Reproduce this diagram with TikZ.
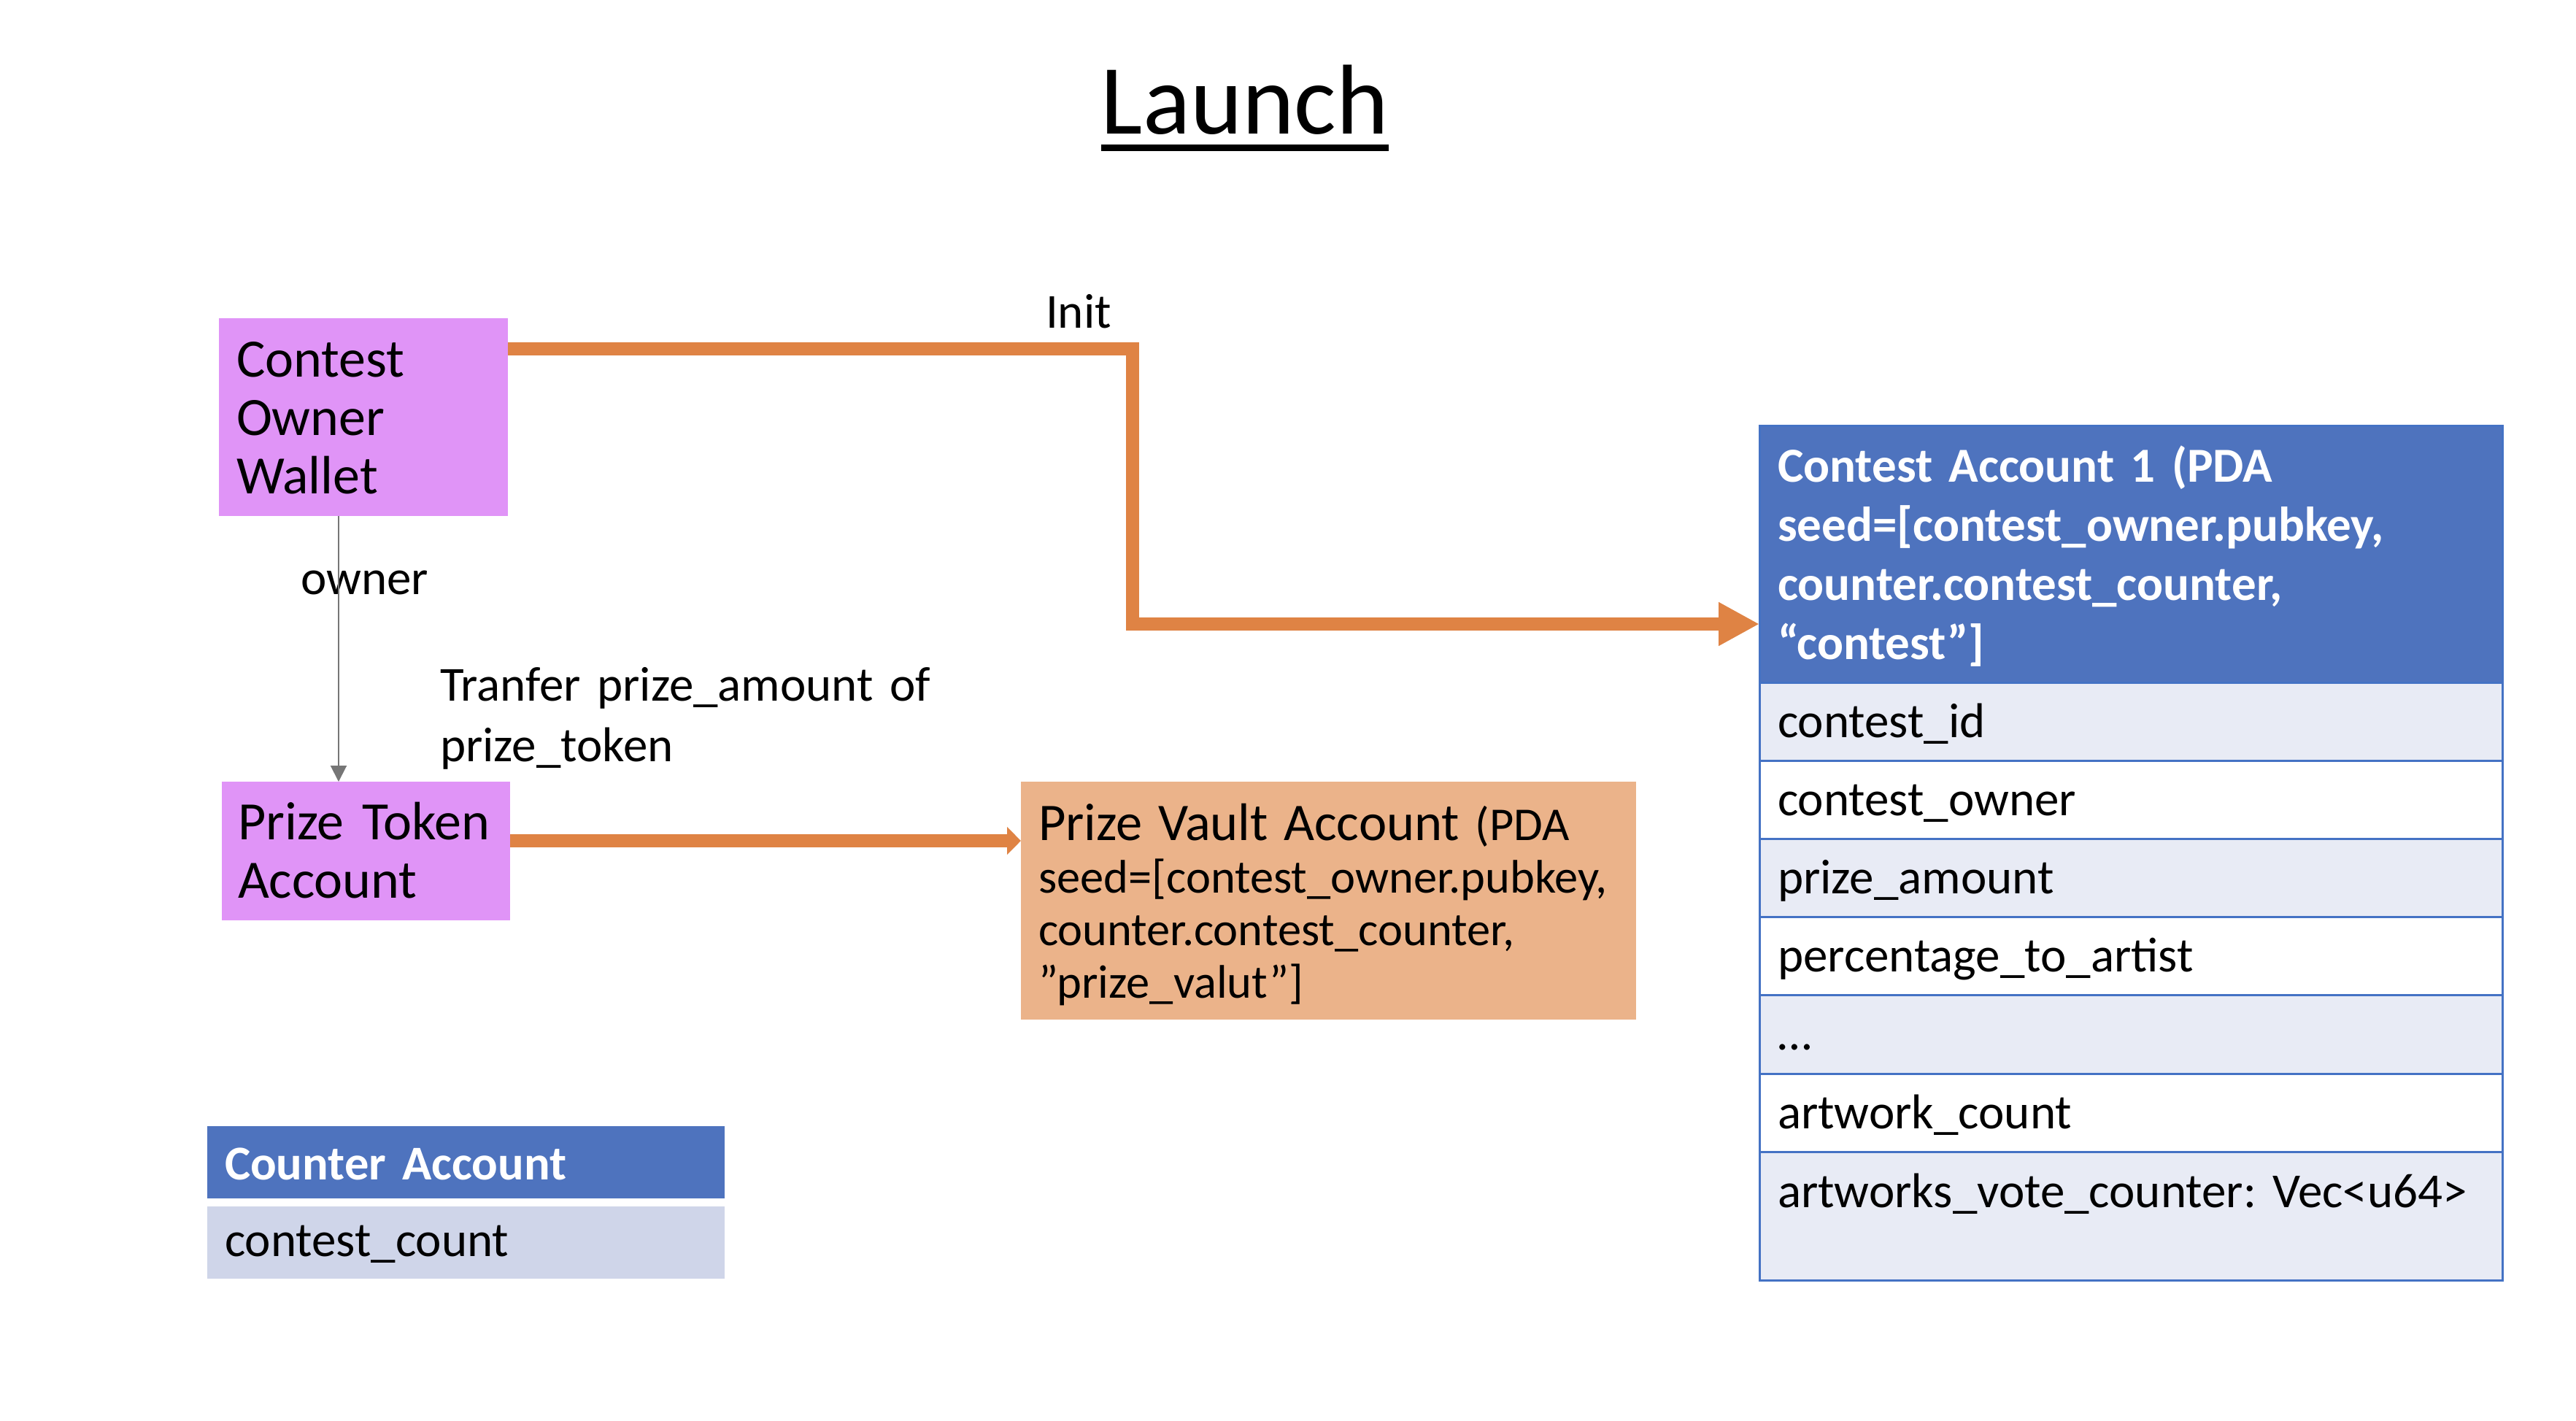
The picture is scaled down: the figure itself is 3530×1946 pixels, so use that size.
\documentclass[tikz,border=0pt]{standalone}
\usepackage{fontspec}
\setmainfont{Carlito}
\usetikzlibrary{arrows.meta,calc}
\definecolor{walletc}{HTML}{E094F7}
\definecolor{orangec}{HTML}{DF8344}
\definecolor{vaultc}{HTML}{EBB38A}
\definecolor{blueh}{HTML}{4E73BE}
\definecolor{bluel}{HTML}{4472C4}
\definecolor{rowlight}{HTML}{E8EBF5}
\definecolor{cntrow}{HTML}{CFD5E9}
\definecolor{grayc}{HTML}{767676}
\newcommand{\tstrut}[1]{\rule{0pt}{#1pt}}
\newcommand{\bstrut}[1]{\rule[-#1pt]{0pt}{#1pt}}
\frenchspacing
\begin{document}
\begin{tikzpicture}[x=1pt,y=-1pt, outer sep=0pt,
  pbox/.style={anchor=north west, inner ysep=0pt, inner xsep=24pt, align=left,
    font=\fontsize{74}{80}\selectfont},
  thead/.style={anchor=north west, inner ysep=0pt, inner xsep=25pt, align=left,
    fill=blueh, draw=bluel, line width=3pt, text=white,
    minimum width=1018pt, text width=968pt, font=\fontsize{67}{81}\selectfont\bfseries},
  trow/.style={anchor=north west, inner ysep=0pt, inner xsep=25pt, align=left,
    draw=bluel, line width=3pt, minimum width=1018pt, text width=968pt,
    font=\fontsize{67}{80}\selectfont},
  chead/.style={anchor=north west, inner ysep=0pt, inner xsep=24pt, align=left,
    fill=blueh, text=white, minimum width=709pt, text width=661pt,
    font=\fontsize{66.5}{80}\selectfont\bfseries},
  crow/.style={anchor=north west, inner ysep=0pt, inner xsep=24pt, align=left,
    fill=cntrow, minimum width=709pt, text width=661pt,
    font=\fontsize{67}{80}\selectfont},
  lbl/.style={inner sep=0pt, font=\fontsize{67}{83}\selectfont},
  orangeline/.style={draw=orangec, line width=18pt},
  grayline/.style={draw=grayc, line width=2pt}
]
\useasboundingbox[fill=white] (0,0) rectangle (3530,1946);

% title
\node[anchor=base, inner sep=0pt, font=\fontsize{136}{140}\selectfont] (title) at (1706,183) {Launch};
\draw[line width=9pt] ([yshift=-19.5pt]title.base west) -- ([yshift=-19.5pt]title.base east);

% wallet and token
\node[pbox, fill=walletc, minimum width=396pt, text width=348pt] (wallet) at (300,436)
  {\tstrut{80}Contest\\Owner\\Wallet\bstrut{31}};
\node[pbox, fill=walletc, inner xsep=22pt, minimum width=395pt, text width=351pt] (token) at (304,1071)
  {\tstrut{79}Prize Token\\Account\bstrut{31}};

% vault
\node[pbox, fill=vaultc, minimum width=843pt, text width=795pt,
  font=\fontsize{64.5}{72}\selectfont] (vault) at (1399,1071)
  {\tstrut{80}{\fontsize{72.5}{72}\selectfont Prize Vault Account} (PDA\\seed=[contest\_owner.pubkey,\\counter.contest\_counter,\\”prize\_valut”]\bstrut{30}};

% contest account table
\node[thead] (hdr) at (2411,583)
  {\tstrut{77}Contest Account 1 (PDA\\seed=[contest\_owner.pubkey,\\counter.contest\_counter,\\“contest”]\bstrut{32}};
\node[trow, fill=rowlight] (r1) at (hdr.south west) {\tstrut{75}contest\_id\bstrut{32.2}};
\node[trow, fill=white] (r2) at (r1.south west) {\tstrut{75}contest\_owner\bstrut{32.2}};
\node[trow, fill=rowlight] (r3) at (r2.south west) {\tstrut{75}prize\_amount\bstrut{32.2}};
\node[trow, fill=white] (r4) at (r3.south west) {\tstrut{75}percentage\_to\_artist\bstrut{32.2}};
\node[trow, fill=rowlight] (r5) at (r4.south west) {\tstrut{75}…\bstrut{32.2}};
\node[trow, fill=white] (r6) at (r5.south west) {\tstrut{75}artwork\_count\bstrut{32.2}};
\node[trow, fill=rowlight] (r7) at (r6.south west) {\tstrut{76}artworks\_vote\_counter: Vec<u64>\bstrut{100}};

% counter account
\node[chead] (cnt) at (284,1543) {\tstrut{73}Counter Account\bstrut{26}};
\node[crow] (cntr) at (284,1653) {\tstrut{68}contest\_count\bstrut{31}};

% labels
\node[lbl, anchor=base west] (init) at (1433,449) {Init};
\node[lbl, anchor=base west] (owner) at (412,814) {owner};
\node[lbl, anchor=north west, align=left, text width=760pt] (tlbl) at (603,900)
  {\tstrut{60}Tranfer prize\_amount of\\prize\_token};

% connectors
\coordinate (initbend) at (1552,478);
\draw[orangeline, -{Triangle[length=56pt,width=56pt]}]
  ([yshift=-42pt]wallet.north east) -- (initbend) |- ([yshift=80pt]hdr.south west);
\coordinate (tstart) at ([yshift=-81pt]token.north east);
\draw[orangeline, -{Triangle[length=19pt,width=37pt]}] (tstart) -- (tstart -| vault.west);
\coordinate (ownx) at (464,0);
\draw[grayline, -{Triangle[length=22pt,width=22pt]}] (wallet.south -| ownx) -- (token.north -| ownx);
\end{tikzpicture}
\end{document}
